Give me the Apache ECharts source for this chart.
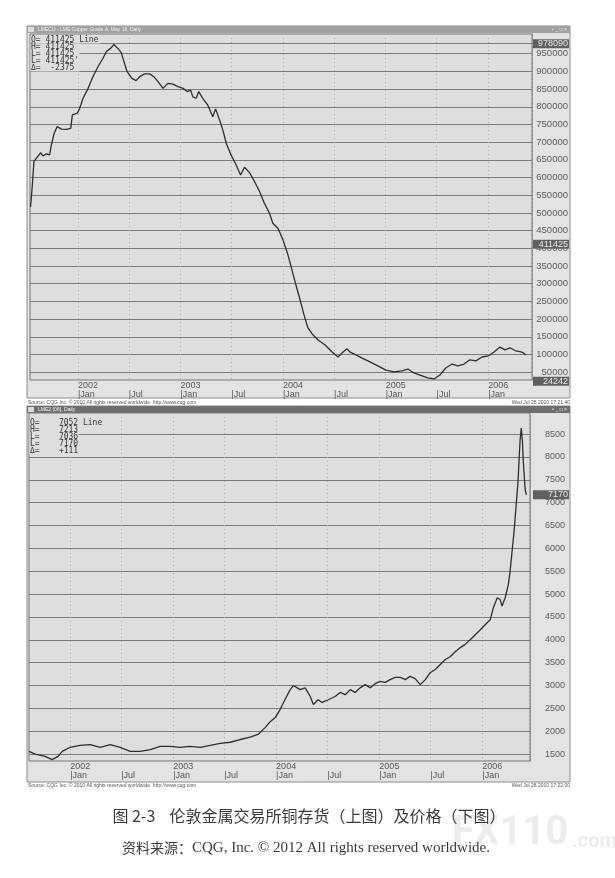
<!DOCTYPE html>
<html><head><meta charset="utf-8">
<script src="https://cdn.jsdelivr.net/npm/echarts@6/dist/echarts.min.js"></script>
<style>html,body{margin:0;padding:0;background:#fff}#c{width:615px;height:878px}</style>
</head><body><div id="c"></div>
<script>
// ---- Top chart: LME copper stocks (tonnes) ----
const invDates = ['2001-07-16','2001-07-21','2001-07-28','2001-08-05','2001-08-21','2001-08-29','2001-09-10','2001-09-22','2001-09-28','2001-10-08','2001-10-19','2001-11-03','2001-11-21','2001-12-06','2001-12-12','2001-12-30','2002-01-07','2002-01-19','2002-02-06','2002-02-23','2002-03-13','2002-03-31','2002-04-12','2002-04-27','2002-05-09','2002-05-23','2002-06-04','2002-06-14','2002-06-25','2002-07-12','2002-07-27','2002-08-09','2002-08-26','2002-09-13','2002-09-28','2002-10-13','2002-10-31','2002-11-17','2002-12-05','2002-12-23','2003-01-10','2003-01-25','2003-02-06','2003-02-14','2003-02-26','2003-03-07','2003-03-21','2003-04-08','2003-04-26','2003-05-06','2003-05-20','2003-06-01','2003-06-13','2003-06-30','2003-07-18','2003-08-03','2003-08-17','2003-09-04','2003-09-22','2003-10-10','2003-10-27','2003-11-14','2003-11-26','2003-12-14','2004-01-01','2004-01-19','2004-02-02','2004-02-16','2004-03-02','2004-03-16','2004-03-30','2004-04-14','2004-05-05','2004-05-30','2004-06-24','2004-07-15','2004-08-02','2004-08-16','2004-08-27','2004-09-17','2004-10-09','2004-11-06','2004-12-04','2005-01-02','2005-01-31','2005-02-28','2005-03-21','2005-04-11','2005-05-03','2005-05-31','2005-06-22','2005-07-13','2005-08-03','2005-08-25','2005-09-15','2005-10-07','2005-10-28','2005-11-18','2005-12-10','2006-01-01','2006-01-22','2006-02-12','2006-03-02','2006-03-19','2006-04-10','2006-05-01','2006-05-15'];
const invValues = [517000,565000,645000,654000,670000,661000,667000,664000,692000,725000,744000,737000,736000,739000,777000,782000,796000,824000,852000,885000,913000,937000,956000,965000,976000,965000,953000,927000,899000,880000,874000,885000,893000,893000,885000,871000,852000,866000,864000,857000,852000,843000,847000,828000,824000,843000,824000,805000,772000,794000,763000,734000,697000,664000,636000,607000,629000,614000,588000,560000,527000,499000,471000,457000,424000,381000,339000,297000,254000,212000,175000,158000,141000,127000,107000,93000,107000,116000,107000,99000,90000,79000,68000,56000,51000,54000,59000,48000,42000,34000,31000,42000,62000,73000,68000,73000,85000,82000,93000,96000,107000,121000,113000,119000,110000,107000,99000];
const invTicks = [50000,100000,150000,200000,250000,300000,350000,400000,450000,500000,550000,600000,650000,700000,750000,800000,850000,900000,950000];
const invMarks = [978090, 411425, 24242];
const invHighLine = 978090;
const invHeader = ['O= 411425 Line','H= 411425','L= 411425','L= 411425\'','\u0394=  -2375'];

// ---- Bottom chart: LME copper price (USD/t) ----
const priceDates = ['2001-08-08','2001-08-30','2001-10-04','2001-10-29','2001-11-19','2001-12-04','2002-01-01','2002-02-05','2002-03-13','2002-04-17','2002-05-23','2002-06-27','2002-08-02','2002-09-06','2002-10-12','2002-11-16','2002-12-21','2003-01-26','2003-03-02','2003-04-07','2003-05-12','2003-06-17','2003-07-22','2003-08-27','2003-10-01','2003-10-29','2003-11-23','2003-12-11','2003-12-29','2004-01-15','2004-02-02','2004-02-20','2004-03-02','2004-03-16','2004-03-26','2004-04-13','2004-05-01','2004-05-12','2004-05-29','2004-06-12','2004-07-04','2004-07-28','2004-08-15','2004-09-02','2004-09-20','2004-10-07','2004-10-25','2004-11-12','2004-11-30','2004-12-17','2005-01-04','2005-01-22','2005-02-08','2005-02-26','2005-03-16','2005-04-03','2005-04-20','2005-05-08','2005-05-26','2005-06-13','2005-06-30','2005-07-18','2005-08-05','2005-08-23','2005-09-09','2005-09-27','2005-10-15','2005-11-01','2005-11-19','2005-12-07','2005-12-25','2006-01-11','2006-01-29','2006-02-09','2006-02-23','2006-03-05','2006-03-12','2006-03-23','2006-04-03','2006-04-10','2006-04-17','2006-04-24','2006-05-01','2006-05-08','2006-05-12','2006-05-15','2006-05-19','2006-05-23','2006-05-26','2006-05-30','2006-06-02','2006-06-06'];
const priceValues = [1560,1500,1450,1380,1450,1560,1650,1690,1710,1650,1710,1650,1560,1560,1600,1670,1670,1650,1670,1650,1690,1735,1760,1820,1870,1930,2080,2210,2300,2475,2700,2910,3000,2950,2910,2950,2760,2585,2690,2630,2690,2760,2850,2800,2910,2850,2950,3020,2950,3040,3090,3070,3130,3180,3180,3130,3200,3150,3020,3130,3280,3350,3460,3570,3630,3740,3830,3900,4000,4110,4220,4330,4440,4700,4920,4880,4740,4920,5200,5530,5970,6400,6950,7500,8040,8370,8630,8370,7930,7540,7280,7170];
const priceTicks = [1500,2000,2500,3000,3500,4000,4500,5000,5500,6000,6500,7000,7500,8000,8500];
const priceMarks = [7170];
const priceHeader = ['O=    7052 Line','H=    7213','L=    7036','L=    7170','\u0394=    +111'];

const timeTicks = ['2002-01-01','2002-07-01','2003-01-01','2003-07-01','2004-01-01','2004-07-01','2005-01-01','2005-07-01','2006-01-01'];

function ld(s){const p=s.split('-');return new Date(+p[0],+p[1]-1,+p[2]).getTime();}

const chart = echarts.init(document.getElementById('c'), null, {renderer:'canvas'});

function xAxisCfg(gi, min, max){
  const tv = timeTicks.map(ld);
  return {
    type:'value', gridIndex:gi, min:ld(min), max:ld(max), scale:true,
    axisLine:{show:false}, axisTick:{show:false, customValues: tv},
    splitLine:{show:true, lineStyle:{color:'#acacac', type:[1,3], width:1}},
    axisLabel:{
      customValues: tv, align:'left', margin:1, fontSize:9, lineHeight:9,
      fontFamily:'Liberation Sans', color:'#555',
      formatter: function(v){const d=new Date(v); return d.getMonth()===0 ? (d.getFullYear()+'\n|Jan') : ' \n|Jul';}
    }
  };
}
function yAxisCfg(gi, min, max, ticks, margin, fs){
  return {
    type:'value', gridIndex:gi, position:'right', min:min, max:max, scale:true,
    axisLine:{show:true, lineStyle:{color:'#8a8a8a', type:[2,2]}},
    axisTick:{show:false, customValues:ticks},
    splitLine:{show:true, lineStyle:{color:'#7a7a7a', width:1}},
    axisLabel:{customValues:ticks, align:'right', margin:margin, fontSize:fs, fontFamily:'Liberation Sans', color:'#5a5a5a',
      formatter: function(v){return String(v);}}
  };
}

chart.setOption({
  backgroundColor:'#ffffff',
  animation:false,
  grid:[
    {left:30, top:34, width:502, height:346, show:true, backgroundColor:'#dedede', borderColor:'#777', borderWidth:1},
    {left:29, top:413, width:501, height:348, show:true, backgroundColor:'#dedede', borderColor:'#777', borderWidth:1}
  ],
  xAxis:[ xAxisCfg(0,'2001-07-14','2006-06-06'), xAxisCfg(1,'2001-08-08','2006-06-19') ],
  yAxis:[ yAxisCfg(0, 28000, 1005600, invTicks, 36, 9.5), yAxisCfg(1, 1350, 8960, priceTicks, 35, 9) ],
  series:[
    {type:'line', xAxisIndex:0, yAxisIndex:0, showSymbol:false, symbol:'none', z:5,
     lineStyle:{color:'#2e2e2e', width:1.3},
     markLine:{silent:true, symbol:'none', label:{show:false}, lineStyle:{color:'#7a7a7a', type:'solid', width:1},
       data:[{yAxis: invHighLine}]},
     data: invDates.map((d,i)=>[ld(d), invValues[i]])},
    {type:'line', xAxisIndex:1, yAxisIndex:1, showSymbol:false, symbol:'none', z:5,
     lineStyle:{color:'#2e2e2e', width:1.3},
     data: priceDates.map((d,i)=>[ld(d), priceValues[i]])}
  ]
});

// ---- decorations (window frames, headers, value boxes, captions) ----
const g = [];
function win(y0, y1, title, tbDark){
  g.push({type:'rect', z:-10, shape:{x:27, y:y0, width:543, height:y1-y0}, style:{fill:'#e3e3e3', stroke:'#8c8c8c', lineWidth:1}});
  g.push({type:'rect', z:-9, shape:{x:27, y:y0, width:543, height:7}, style:{fill: tbDark ? '#6e6e6e' : '#a0a0a0'}});
  g.push({type:'text', z:-8, style:{x:38, y:y0+3.5, text:title, fill:'#f2f2f2', font:'5px Liberation Sans', verticalAlign:'middle'}});
  g.push({type:'rect', z:-8, shape:{x:28, y:y0+1, width:6, height:5}, style:{fill:'#dcdcdc'}});
  g.push({type:'text', z:-8, style:{x:567, y:y0+3.5, text:'\u25AA _ \u25A1 \u00D7', fill:'#eeeeee', font:'5px Liberation Sans', align:'right', verticalAlign:'middle'}});
}
win(26, 398, 'LMECU - LME Copper Grade A, May 18, Daily', false);
win(406, 782, 'LME2 (06), Daily', true);

function header(lines, x, y, w, w0){
  lines.forEach((t,i)=>{
    g.push({type:'rect', z:20, shape:{x:x, y:y+i*7, width:(i===0?w0:w), height:7}, style:{fill:'#dedede'}});
  });
  lines.forEach((t,i)=>{
    g.push({type:'text', z:21, style:{x:x+0.5, y:y+3.8+i*7, text:t, fill:'#333', font:'8px DejaVu Sans Mono', verticalAlign:'middle'}});
  });
}
header(invHeader, 30.5, 36.5, 49, 70);
header(priceHeader, 29.5, 419.5, 49, 72);

g.push({type:'text', style:{x:28, y:403, text:'Source: CQG Inc. \u00A9 2010 All rights reserved worldwide. http://www.cqg.com', fill:'#555', font:'5px Liberation Sans', verticalAlign:'middle'}});
g.push({type:'text', style:{x:570, y:403, text:'Wed Jul 28 2010 17:21:40', fill:'#555', font:'5px Liberation Sans', align:'right', verticalAlign:'middle'}});
g.push({type:'text', style:{x:28, y:786, text:'Source: CQG Inc. \u00A9 2010 All rights reserved worldwide. http://www.cqg.com', fill:'#555', font:'5px Liberation Sans', verticalAlign:'middle'}});
g.push({type:'text', style:{x:570, y:786, text:'Wed Jul 28 2010 17:22:00', fill:'#555', font:'5px Liberation Sans', align:'right', verticalAlign:'middle'}});

function boxes(vals, yi, xEnd){
  vals.forEach(v=>{
    const py = chart.convertToPixel({yAxisIndex:yi}, v);
    g.push({type:'rect', z:30, shape:{x:533, y:py-4.5, width:xEnd-533, height:9}, style:{fill:'#5f5f5f'}});
    g.push({type:'text', z:31, style:{x:xEnd-1, y:py, text:String(v), fill:'#e8e8e8', font:'9px Liberation Sans', align:'right', verticalAlign:'middle'}});
  });
}
boxes(invMarks, 0, 569);
boxes(priceMarks, 1, 569);

g.push({type:'text', style:{x:309, y:816, text:'图 2-3    伦敦金属交易所铜存货（上图）及价格（下图）', fill:'#3a3a3a', font:'16px "Noto Sans CJK SC"', align:'center', verticalAlign:'middle'}});
g.push({type:'text', style:{x:122, y:848, rich:{a:{font:'14px "Noto Sans CJK SC"', fill:'#3a3a3a'}, b:{font:'15px "Liberation Serif"', fill:'#3a3a3a'}}, text:'{a|资料来源：}{b|CQG, Inc. \u00A9 2012 All rights reserved worldwide.}', verticalAlign:'middle'}});
g.push({type:'text', z:-20, style:{x:452, y:834, text:'FX110', fill:'#ececec', font:'bold 40px Roboto', verticalAlign:'middle'}});
g.push({type:'text', z:-20, style:{x:572, y:842, text:'.com', fill:'#ececec', font:'bold 20px Roboto', verticalAlign:'middle'}});

chart.setOption({graphic: g});
</script></body></html>
